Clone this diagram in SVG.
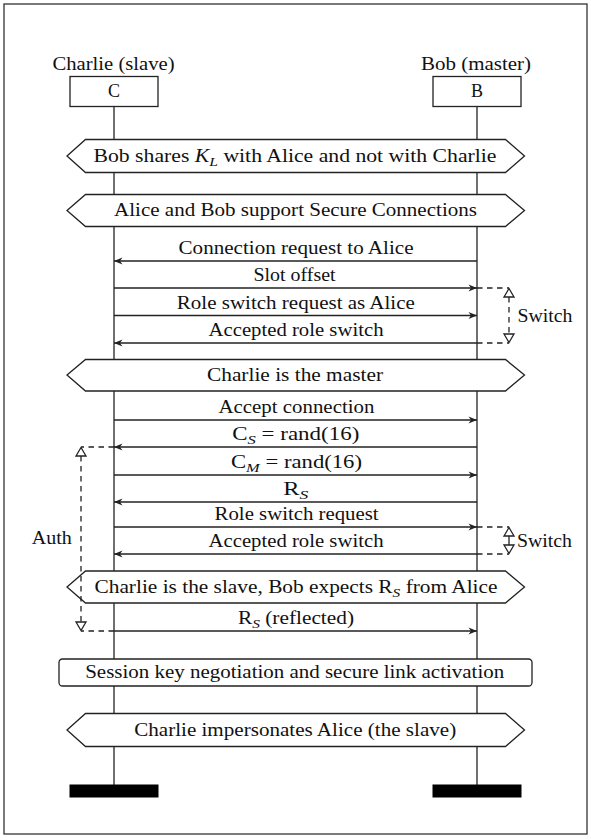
<svg xmlns="http://www.w3.org/2000/svg" width="591" height="840" viewBox="0 0 591 840">
<style>
text{font-family:"Liberation Serif","Times New Roman",serif;font-size:18px;fill:#111;}
.c{text-anchor:middle;}
.sub{font-size:13px;font-style:italic;}
.it{font-style:italic;}
.ln{stroke:#222;stroke-width:1.3;fill:none;}
.box{stroke:#222;stroke-width:1.3;fill:#fff;}
.arr{stroke:#222;stroke-width:1.3;fill:none;marker-end:url(#ah);}
.dash{stroke:#222;stroke-width:1.3;fill:none;stroke-dasharray:5.5 4.5;}
.tri{stroke:#222;stroke-width:1.3;fill:#fff;}
.bar{fill:#000;stroke:#000;stroke-width:1;}
</style>
<defs>
<marker id="ah" viewBox="-10 -5 11 10" refX="0" refY="0" markerWidth="11" markerHeight="10" markerUnits="userSpaceOnUse" orient="auto">
<path d="M0,0 L-8.5,-3.4 L-6,0 L-8.5,3.4 Z" fill="#222"/>
</marker>
</defs>
<rect x="4" y="4" width="583" height="830" fill="#fff" stroke="#333" stroke-width="1.3"/>

<g id="lifeline-C">
<text class="c" x="113.5" y="70" textLength="122" lengthAdjust="spacingAndGlyphs">Charlie (slave)</text>
<line class="ln" x1="114" y1="106.5" x2="114" y2="785"/>
<rect class="box" x="70" y="76.5" width="88" height="30"/>
<text class="c" x="114" y="96.5">C</text>
<rect class="bar" x="70" y="785" width="88" height="12"/>
</g>
<g id="lifeline-B">
<text class="c" x="476" y="70" textLength="110" lengthAdjust="spacingAndGlyphs">Bob (master)</text>
<line class="ln" x1="477" y1="106.5" x2="477" y2="785"/>
<rect class="box" x="433" y="76.5" width="88" height="30"/>
<text class="c" x="477" y="96.5">B</text>
<rect class="bar" x="433" y="785" width="88" height="12"/>
</g>

<g id="cond-shares-KL">
<polygon class="box" points="67,156 85.5,139.5 505.5,139.5 524.5,156 505.5,172.5 85.5,172.5"/>
<text class="c" x="295" y="161.5" textLength="403" lengthAdjust="spacingAndGlyphs">Bob shares <tspan class="it">K</tspan><tspan class="sub" dy="4">L</tspan><tspan dy="-4"> with Alice and not with Charlie</tspan></text>
</g>
<g id="cond-secure-connections">
<polygon class="box" points="67,210.5 85.5,194.5 505.5,194.5 524.5,210.5 505.5,226.5 85.5,226.5"/>
<text class="c" x="295.5" y="216" textLength="363" lengthAdjust="spacingAndGlyphs">Alice and Bob support Secure Connections</text>
</g>
<g id="cond-charlie-master">
<polygon class="box" points="67,375 85.5,359.5 505.5,359.5 524.5,375 505.5,391 85.5,391"/>
<text class="c" x="295" y="380.5" textLength="176" lengthAdjust="spacingAndGlyphs">Charlie is the master</text>
</g>
<g id="cond-charlie-slave">
<polygon class="box" points="67,587 85.5,571 505.5,571 524.5,587 505.5,603 85.5,603"/>
<text class="c" x="296" y="592.5" textLength="403" lengthAdjust="spacingAndGlyphs">Charlie is the slave, Bob expects R<tspan class="sub" dy="4">S</tspan><tspan dy="-4"> from Alice</tspan></text>
</g>
<g id="action-session-key">
<rect class="box" x="59" y="659" width="473" height="27" rx="3.5"/>
<text class="c" x="294.7" y="678" textLength="419" lengthAdjust="spacingAndGlyphs">Session key negotiation and secure link activation</text>
</g>
<g id="cond-impersonates">
<polygon class="box" points="67,730 85.5,713.5 505.5,713.5 524.5,730 505.5,746.5 85.5,746.5"/>
<text class="c" x="295.2" y="735.5" textLength="322" lengthAdjust="spacingAndGlyphs">Charlie impersonates Alice (the slave)</text>
</g>

<g id="connectors">
<line class="arr" x1="477" y1="261" x2="114" y2="261"/>
<text class="c" x="296" y="254" textLength="235" lengthAdjust="spacingAndGlyphs">Connection request to Alice</text>
<line class="arr" x1="114" y1="288" x2="477" y2="288"/>
<text class="c" x="294.5" y="281" textLength="82" lengthAdjust="spacingAndGlyphs">Slot offset</text>
<line class="arr" x1="114" y1="315.5" x2="477" y2="315.5"/>
<text class="c" x="295.8" y="308.5" textLength="238" lengthAdjust="spacingAndGlyphs">Role switch request as Alice</text>
<line class="arr" x1="477" y1="343" x2="114" y2="343"/>
<text class="c" x="296" y="336" textLength="175" lengthAdjust="spacingAndGlyphs">Accepted role switch</text>

<line class="arr" x1="114" y1="420" x2="477" y2="420"/>
<text class="c" x="296.4" y="413" textLength="156" lengthAdjust="spacingAndGlyphs">Accept connection</text>
<line class="arr" x1="477" y1="447" x2="114" y2="447"/>
<text class="c" x="295.8" y="440" textLength="127" lengthAdjust="spacingAndGlyphs">C<tspan class="sub" dy="4">S</tspan><tspan dy="-4"> = rand(16)</tspan></text>
<line class="arr" x1="114" y1="475" x2="477" y2="475"/>
<text class="c" x="296.5" y="468" textLength="131" lengthAdjust="spacingAndGlyphs">C<tspan class="sub" dy="4">M</tspan><tspan dy="-4"> = rand(16)</tspan></text>
<line class="arr" x1="477" y1="502" x2="114" y2="502"/>
<text class="c" x="295.8" y="495" textLength="25" lengthAdjust="spacingAndGlyphs">R<tspan class="sub" dy="4">S</tspan></text>
<line class="arr" x1="114" y1="527" x2="477" y2="527"/>
<text class="c" x="296.6" y="520" textLength="164" lengthAdjust="spacingAndGlyphs">Role switch request</text>
<line class="arr" x1="477" y1="554" x2="114" y2="554"/>
<text class="c" x="296" y="547" textLength="175" lengthAdjust="spacingAndGlyphs">Accepted role switch</text>
<line class="arr" x1="114" y1="631" x2="477" y2="631"/>
<text class="c" x="296" y="624" textLength="116" lengthAdjust="spacingAndGlyphs">R<tspan class="sub" dy="4">S</tspan><tspan dy="-4"> (reflected)</tspan></text>

<g id="bracket-switch-1">
<path class="dash" d="M477,288 H509 M477,343 H509 M509,297 V334"/>
<polygon class="tri" points="509,288.5 504,297 514,297"/>
<polygon class="tri" points="509,342.5 504,334 514,334"/>
<text x="517.5" y="321.5" textLength="55" lengthAdjust="spacingAndGlyphs">Switch</text>
</g>
<g id="bracket-switch-2">
<path class="dash" d="M477,527 H509 M477,554 H509"/>
<line class="ln" x1="509" y1="536" x2="509" y2="545"/>
<polygon class="tri" points="509,527.5 504,536 514,536"/>
<polygon class="tri" points="509,553.5 504,545 514,545"/>
<text x="517" y="546.5" textLength="55" lengthAdjust="spacingAndGlyphs">Switch</text>
</g>
<g id="bracket-auth">
<path class="dash" d="M114,447 H81 M114,631 H81 M81,456 V622"/>
<polygon class="tri" points="81,447.5 76,456 86,456"/>
<polygon class="tri" points="81,630.5 76,622 86,622"/>
<text x="31.7" y="544" textLength="40" lengthAdjust="spacingAndGlyphs">Auth</text>
</g>
</g>
</svg>
